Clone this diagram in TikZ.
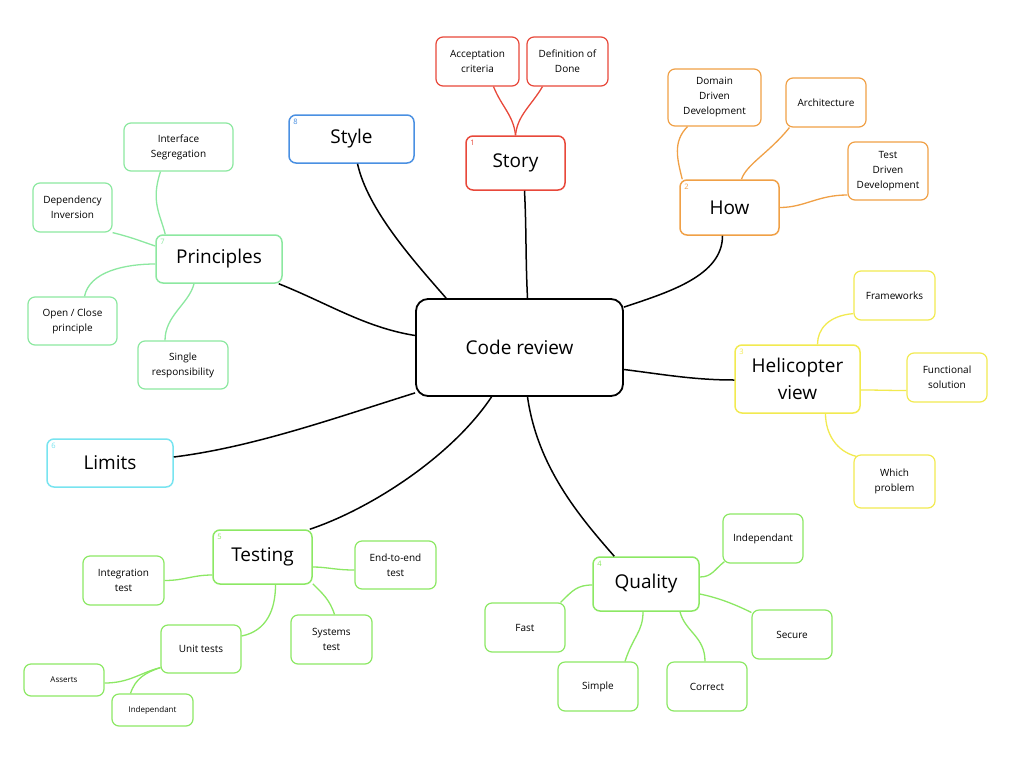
\documentclass[tikz,border=0pt]{standalone}
\usepackage{fontspec}
\setmainfont{Open Sans}
\usetikzlibrary{calc}
\definecolor{cblue}{RGB}{74,144,226}
\definecolor{cred}{RGB}{232,72,58}
\definecolor{corange}{RGB}{240,160,70}
\definecolor{cyellow}{RGB}{242,234,80}
\definecolor{cgreen}{RGB}{140,232,100}
\definecolor{cmint}{RGB}{140,232,160}
\definecolor{ccyan}{RGB}{120,228,240}
\tikzset{
 box/.style={draw, rounded corners=7pt, line width=1.5pt, fill=white, align=center, inner sep=0pt},
 topic/.style={box, font=\fontsize{19}{27}\selectfont},
 sub/.style={box, font=\fontsize{10}{15}\selectfont, line width=1.2pt},
 tinybox/.style={box, font=\fontsize{8}{10}\selectfont, line width=1.2pt},
 num/.style={font=\fontsize{7.5}{7.5}\selectfont, inner sep=0pt, anchor=north west},
 main/.style={draw=black, line width=1.5pt},
 link/.style={line width=1.3pt},
}
\begin{document}
\begin{tikzpicture}[x=1pt,y=-1pt]
\fill[white] (0,0) rectangle (1024,768);
\useasboundingbox (0,0) rectangle (1024,768);

% central
\node[topic, draw=black, line width=1.8pt, rounded corners=12pt, minimum width=207, minimum height=97] (code) at (519.5,347.5) {Code review};

% topics
\node[topic, draw=cblue, minimum width=125, minimum height=48] (style) at (351.5,139) {Style};
\node[topic, draw=cred, minimum width=99, minimum height=54] (story) at (515.5,163) {Story};
\node[topic, draw=corange, minimum width=99, minimum height=55] (how) at (729.5,207.5) {How};
\node[topic, draw=cyellow, minimum width=125, minimum height=68] (heli) at (797.5,379) {Helicopter\\view};
\node[topic, draw=cgreen, minimum width=106, minimum height=54] (quality) at (646,584) {Quality};
\node[topic, draw=cgreen, minimum width=99, minimum height=54] (testing) at (262.5,557) {Testing};
\node[topic, draw=ccyan, minimum width=126, minimum height=48] (limits) at (110,463) {Limits};
\node[topic, draw=cmint, minimum width=126, minimum height=48] (principles) at (219,259) {Principles};

% numbers
\node[num, text=cred] (n1) at ($(story.north west)+(5,5)$) {1};
\node[num, text=corange] (n2) at ($(how.north west)+(5,5)$) {2};
\node[num, text=cyellow] (n3) at ($(heli.north west)+(5,5)$) {3};
\node[num, text=cgreen] (n4) at ($(quality.north west)+(5,5)$) {4};
\node[num, text=cgreen] (n5) at ($(testing.north west)+(5,5)$) {5};
\node[num, text=ccyan] (n6) at ($(limits.north west)+(5,5)$) {6};
\node[num, text=cmint] (n7) at ($(principles.north west)+(5,5)$) {7};
\node[num, text=cblue] (n8) at ($(style.north west)+(5,5)$) {8};

% story subs
\node[sub, draw=cred, minimum width=83, minimum height=49] (acc) at (477.5,61.5) {Acceptation\\criteria};
\node[sub, draw=cred, minimum width=81, minimum height=49] (dod) at (567.5,61.5) {Definition of\\Done};
% how subs
\node[sub, draw=corange, minimum width=93, minimum height=57] (ddd) at (714.5,97.5) {Domain\\Driven\\Development};
\node[sub, draw=corange, minimum width=80, minimum height=49] (arch) at (826,102.5) {Architecture};
\node[sub, draw=corange, minimum width=80, minimum height=58] (tdd) at (888,171) {Test\\Driven\\Development};
% helicopter subs
\node[sub, draw=cyellow, minimum width=81, minimum height=49] (fw) at (894.5,295.5) {Frameworks};
\node[sub, draw=cyellow, minimum width=80, minimum height=49] (func) at (947,377.5) {Functional\\solution};
\node[sub, draw=cyellow, minimum width=81, minimum height=53] (which) at (894.5,481.5) {Which\\problem};
% quality subs
\node[sub, draw=cgreen, minimum width=80, minimum height=49] (qind) at (763,538.5) {Independant};
\node[sub, draw=cgreen, minimum width=80, minimum height=49] (secure) at (792,634.5) {Secure};
\node[sub, draw=cgreen, minimum width=80, minimum height=49] (correct) at (707,686.5) {Correct};
\node[sub, draw=cgreen, minimum width=80, minimum height=49] (simple) at (598,686.5) {Simple};
\node[sub, draw=cgreen, minimum width=80, minimum height=49] (fast) at (525,627.5) {Fast};
% testing subs
\node[sub, draw=cgreen, minimum width=81, minimum height=49] (integ) at (123.5,580.5) {Integration\\test};
\node[sub, draw=cgreen, minimum width=81, minimum height=48] (e2e) at (395.5,565) {End-to-end\\test};
\node[sub, draw=cgreen, minimum width=81, minimum height=49] (sys) at (331.5,639.5) {Systems\\test};
\node[sub, draw=cgreen, minimum width=80, minimum height=48] (unit) at (201,649) {Unit tests};
\node[tinybox, draw=cgreen, minimum width=80, minimum height=32] (asserts) at (64,680) {Asserts};
\node[tinybox, draw=cgreen, minimum width=81, minimum height=32] (uind) at (152.5,710) {Independant};
% principles subs
\node[sub, draw=cmint, minimum width=109, minimum height=48] (intf) at (178.5,147) {Interface\\Segregation};
\node[sub, draw=cmint, minimum width=79, minimum height=49] (dep) at (72.5,207.5) {Dependency\\Inversion};
\node[sub, draw=cmint, minimum width=89, minimum height=48] (open) at (72.5,321) {Open / Close\\principle};
\node[sub, draw=cmint, minimum width=90, minimum height=48] (single) at (183,365) {Single\\responsibility};

% main connectors
\draw[main] ($(code.north west)+(31,0)$) .. controls +(-35,-40) and +(10,45) .. ($(style.south)+(6,0)$);
\draw[main] ($(code.north)+(8,0)$) .. controls +(-2,-40) and +(2,40) .. ($(story.south)+(9,0)$);
\draw[main] ($(code.north east)+(0,9)$) .. controls +(45,-15) and +(0,40) .. ($(how.south)+(-7,0)$);
\draw[main] ($(code.east)+(0,22)$) .. controls +(40,5) and +(-40,0) .. ($(heli.west)+(0,1)$);
\draw[main] ($(code.south)+(8,0)$) .. controls +(10,70) and +(-35,-40) .. ($(quality.north west)+(22,0)$);
\draw[main] ($(code.south)+(-28,0)$) .. controls +(-40,60) and +(60,-20) .. ($(testing.north east)+(-3,0)$);
\draw[main] ($(code.south west)+(0,-4)$) .. controls +(-80,25) and +(80,-10) .. ($(limits.east)+(0,-6)$);
\draw[main] ($(code.west)+(0,-12)$) .. controls +(-50,-8) and +(50,20) .. ($(principles.south east)+(-4,0)$);

% story
\draw[link, cred] ($(acc.south)+(16,0)$) .. controls +(8,20) and +(-2,-20) .. (story.north);
\draw[link, cred] ($(dod.south)+(-25,0)$) .. controls +(-12,20) and +(2,-20) .. (story.north);
% how
\draw[link, corange] ($(ddd.south)+(-27,0)$) .. controls +(-15,15) and +(-5,-20) .. ($(how.north west)+(3,0)$);
\draw[link, corange] ($(arch.south west)+(4,0)$) .. controls +(-20,25) and +(5,-15) .. ($(how.north)+(12,0)$);
\draw[link, corange] ($(tdd.west)+(0,24)$) .. controls +(-30,0) and +(25,0) .. (how.east);
% helicopter
\draw[link, cyellow] ($(fw.south west)+(0,-7)$) .. controls +(-25,2) and +(0,-15) .. ($(heli.north)+(20,0)$);
\draw[link, cyellow] ($(func.west)+(0,13)$) .. controls +(-20,0) and +(20,0) .. ($(heli.east)+(0,11)$);
\draw[link, cyellow] ($(which.north west)+(3,2)$) .. controls +(-20,-5) and +(0,20) .. ($(heli.south)+(28,0)$);
% quality
\draw[link, cgreen] ($(qind.south west)+(2,-2)$) .. controls +(-10,8) and +(12,0) .. ($(quality.east)+(0,-7)$);
\draw[link, cgreen] ($(secure.west)+(0,-22)$) .. controls +(-20,-10) and +(15,3) .. ($(quality.east)+(0,10)$);
\draw[link, cgreen] ($(correct.north)+(-2,0)$) .. controls +(0,-25) and +(5,20) .. ($(quality.south)+(34,0)$);
\draw[link, cgreen] ($(simple.north)+(27,0)$) .. controls +(8,-25) and +(0,20) .. ($(quality.south)+(-3,0)$);
\draw[link, cgreen] ($(fast.north east)+(-5,0)$) .. controls +(12,-12) and +(-15,0) .. ($(quality.west)+(0,1)$);
% testing
\draw[link, cgreen] (integ.east) .. controls +(20,0) and +(-20,0) .. ($(testing.west)+(0,18)$);
\draw[link, cgreen] ($(e2e.west)+(0,5)$) .. controls +(-20,0) and +(15,0) .. ($(testing.east)+(0,10)$);
\draw[link, cgreen] ($(sys.north)+(3,0)$) .. controls +(-5,-15) and +(10,10) .. ($(testing.south east)+(0,-1)$);
\draw[link, cgreen] ($(unit.east)+(0,-13)$) .. controls +(25,-5) and +(0,25) .. ($(testing.south)+(13,0)$);
\draw[link, cgreen] ($(asserts.east)+(0,3)$) .. controls +(25,0) and +(-20,5) .. ($(unit.south west)+(0,-6)$);
\draw[link, cgreen] ($(uind.north)+(-22,0)$) .. controls +(5,-15) and +(-15,5) .. ($(unit.south west)+(0,-6)$);
% principles
\draw[link, cmint] ($(intf.south)+(-18,0)$) .. controls +(-10,30) and +(-5,-20) .. ($(principles.north west)+(10,0)$);
\draw[link, cmint] (dep.south east) .. controls +(20,5) and +(-15,-5) .. ($(principles.west)+(0,-13)$);
\draw[link, cmint] ($(open.north)+(12,0)$) .. controls +(5,-25) and +(-30,0) .. ($(principles.west)+(0,5)$);
\draw[link, cmint] ($(single.north)+(-18,0)$) .. controls +(0,-25) and +(-5,20) .. ($(principles.south)+(-25,0)$);
\end{tikzpicture}
\end{document}
